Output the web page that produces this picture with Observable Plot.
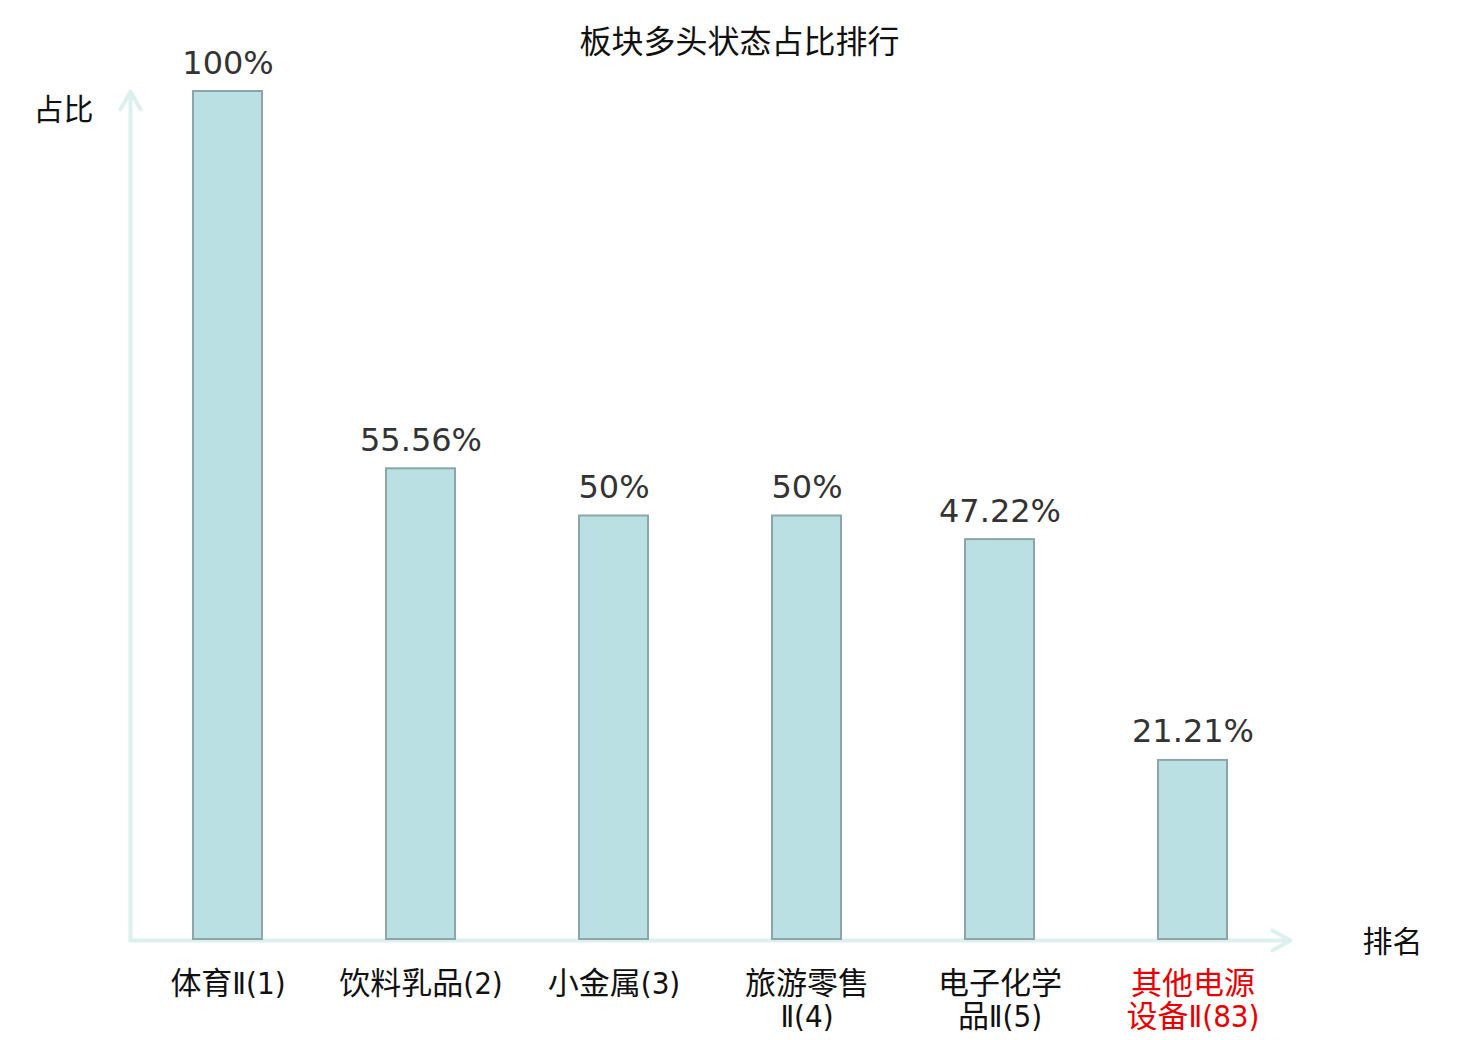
<!DOCTYPE html>
<html><head><meta charset="utf-8">
<script src="https://cdn.jsdelivr.net/npm/d3@7"></script>
<script src="https://cdn.jsdelivr.net/npm/@observablehq/plot@0.6"></script>
<style>body{margin:0;background:#fff}</style>
</head><body><div id="chart"></div>
<script>
const categories = ["体育Ⅱ(1)", "饮料乳品(2)", "小金属(3)", "旅游零售\nⅡ(4)", "电子化学\n品Ⅱ(5)", "其他电源\n设备Ⅱ(83)"];
const values = [100, 55.56, 50, 50, 47.22, 21.21];
const valueLabels = ["100%", "55.56%", "50%", "50%", "47.22%", "21.21%"];
const highlighted = ["其他电源\n设备Ⅱ(83)"];
const title = "板块多头状态占比排行";
const yLabel = "占比";
const xLabel = "排名";

const data = categories.map((c, i) => ({category: c, value: values[i], label: valueLabels[i]}));

const W = 1480, H = 1040, mL = 130, mR = 190, mT = 91, mB = 100;
const innerW = W - mL - mR, innerH = H - mT - mB;
const cjk = "'Noto Sans CJK SC', sans-serif";
const tickFont = "'DejaVu Sans Condensed', 'Noto Sans CJK SC', sans-serif";
const axisColor = "#dcf1ee";

const arrowShape = {
  draw(context, l) {
    context.moveTo(0, 0);
    context.lineTo(0, -l);
    context.moveTo(-10, 18 - l);
    context.lineTo(0, -l);
    context.lineTo(10, 18 - l);
  }
};

const chart = Plot.plot({
  width: W, height: H,
  marginLeft: mL, marginRight: mR, marginTop: mT, marginBottom: mB,
  x: {domain: categories, paddingInner: 0.643, paddingOuter: 0.3215, axis: null},
  y: {domain: [0, 100], axis: null},
  style: {background: "#fff", overflow: "visible"},
  marks: [
    Plot.vector([0], {frameAnchor: "bottom-left", rotate: 0, length: innerH, anchor: "start", shape: arrowShape, stroke: axisColor, strokeWidth: 4}),
    Plot.vector([0], {frameAnchor: "bottom-left", rotate: 90, length: innerW, anchor: "start", shape: arrowShape, stroke: axisColor, strokeWidth: 4}),
    Plot.barY(data, {x: "category", y: "value", fill: "#bae0e3", stroke: "#8ca5a8", strokeWidth: 2, insetBottom: 1}),
    Plot.text(data, {x: "category", y: "value", text: "label", dy: -18, lineAnchor: "bottom", fontSize: 32, fill: "#333", fontFamily: "'DejaVu Sans', sans-serif"}),
    Plot.axisX({ticks: categories.filter(c => !highlighted.includes(c)), tickSize: 0, tickPadding: 30, fontSize: 31, lineHeight: 1.06, fill: "#111", fontFamily: tickFont, label: null}),
    Plot.axisX({ticks: highlighted, tickSize: 0, tickPadding: 30, fontSize: 31, lineHeight: 1.06, fill: "#e60000", fontFamily: tickFont, label: null}),
    Plot.text([title], {frameAnchor: "top", dx: 29, dy: -49, lineAnchor: "middle", fontSize: 32, fill: "#111", fontFamily: cjk}),
    Plot.text([yLabel], {frameAnchor: "top-left", dx: -67, dy: 19, lineAnchor: "middle", textAnchor: "middle", fontSize: 30, fill: "#111", fontFamily: cjk}),
    Plot.text([xLabel], {frameAnchor: "bottom-right", dx: 102, dy: 2, lineAnchor: "middle", textAnchor: "middle", fontSize: 30, fill: "#111", fontFamily: cjk})
  ]
});
document.getElementById("chart").append(chart);
</script>
</body></html>
